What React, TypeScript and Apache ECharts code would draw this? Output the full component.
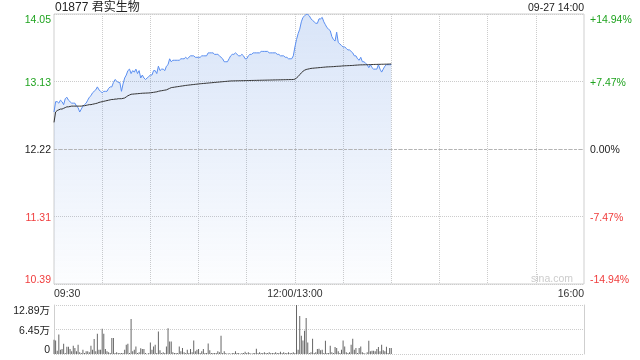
import React, { useEffect, useRef } from "react";
import * as echarts from "echarts";

const stockTitle = "01877 君实生物";
const stampText = "09-27 14:00";
const prevClose = 12.22;

const timeLabels = ["09:30", "12:00/13:00", "16:00"];
const timeLabelIdx = [0, 150, 330];
const totalMinutes = 330;

const priceTickLabels = ["10.39", "11.31", "12.22", "13.13", "14.05"];
const pctTickLabels = ["-14.94%", "-7.47%", "0.00%", "+7.47%", "+14.94%"];
const pctStep = 7.47;
const volTickLabels = ["0", "6.45万", "12.89万"];
const volMax = 128900;

const prices = [
  12.72, 12.86, 12.86, 12.84, 12.88, 12.86, 12.82, 12.9, 12.92, 12.88,
  12.86, 12.84, 12.84, 12.84, 12.8, 12.78, 12.72, 12.76, 12.8, 12.82,
  12.84, 12.88, 12.92, 12.94, 12.98, 13.0, 13.02, 13.06, 13.02, 13.0,
  12.98, 13.0, 13.0, 13.0, 13.04, 13.06, 13.06, 13.12, 13.16, 13.14,
  13.12, 13.12, 13.0, 13.1, 13.18, 13.22, 13.28, 13.3, 13.24, 13.28,
  13.26, 13.3, 13.24, 13.28, 13.18, 13.22, 13.18, 13.16, 13.18, 13.2,
  13.22, 13.22, 13.28, 13.28, 13.24, 13.34, 13.28, 13.3, 13.3, 13.28,
  13.34, 13.36, 13.44, 13.4, 13.42, 13.42, 13.42, 13.42, 13.42, 13.44,
  13.44, 13.44, 13.46, 13.44, 13.46, 13.48, 13.48, 13.48, 13.46, 13.46,
  13.46, 13.46, 13.48, 13.48, 13.48, 13.48, 13.52, 13.52, 13.52, 13.52,
  13.5, 13.5, 13.5, 13.48, 13.46, 13.44, 13.4, 13.4, 13.4, 13.44,
  13.48, 13.5, 13.5, 13.52, 13.5, 13.48, 13.48, 13.5, 13.48, 13.44,
  13.44, 13.48, 13.5, 13.5, 13.52, 13.52, 13.52, 13.52, 13.52, 13.54,
  13.54, 13.54, 13.54, 13.54, 13.52, 13.52, 13.52, 13.52, 13.52, 13.5,
  13.5, 13.48, 13.48, 13.48, 13.46, 13.46, 13.44, 13.44, 13.44, 13.48,
  13.6, 13.7, 13.78, 13.84, 13.94, 14.0, 14.02, 14.04, 14.04, 14.02,
  13.98, 13.96, 13.94, 13.92, 13.92, 13.98, 13.98, 14.0, 13.94, 13.9,
  13.86, 13.84, 13.82, 13.74, 13.7, 13.68, 13.8, 13.66, 13.64, 13.62,
  13.6, 13.6, 13.58, 13.56, 13.56, 13.54, 13.52, 13.48, 13.48, 13.44,
  13.42, 13.46, 13.4, 13.4, 13.38, 13.36, 13.32, 13.36, 13.32, 13.3,
  13.3, 13.3, 13.36, 13.3, 13.26, 13.3, 13.34, 13.36, 13.36, 13.36, 13.36,
];

const avgPrices = [
  12.58, 12.72, 12.74, 12.75, 12.76, 12.76, 12.77, 12.78, 12.79, 12.79,
  12.795, 12.8, 12.8, 12.8, 12.8, 12.8, 12.8, 12.8, 12.805, 12.805,
  12.81, 12.815, 12.82, 12.82, 12.825, 12.83, 12.835, 12.84, 12.85, 12.855,
  12.86, 12.865, 12.87, 12.875, 12.88, 12.885, 12.89, 12.89, 12.895, 12.895,
  12.9, 12.9, 12.9, 12.905, 12.91, 12.925, 12.94, 12.95, 12.96, 12.962,
  12.964, 12.966, 12.968, 12.97, 12.972, 12.974, 12.975, 12.976, 12.977, 12.978,
  12.98, 12.983, 12.986, 12.99, 12.993, 13.0, 13.005, 13.008, 13.012, 13.016,
  13.02, 13.03, 13.04, 13.05, 13.053, 13.056, 13.06, 13.063, 13.066, 13.07,
  13.073, 13.076, 13.08, 13.082, 13.085, 13.087, 13.09, 13.092, 13.095, 13.097,
  13.1, 13.102, 13.104, 13.106, 13.108, 13.11, 13.112, 13.114, 13.116, 13.118,
  13.12, 13.122, 13.124, 13.126, 13.128, 13.13, 13.132, 13.134, 13.136, 13.138,
  13.14, 13.141, 13.141, 13.142, 13.142, 13.143, 13.143, 13.144, 13.144, 13.145,
  13.145, 13.146, 13.146, 13.147, 13.147, 13.148, 13.148, 13.149, 13.149, 13.15,
  13.15, 13.151, 13.151, 13.152, 13.152, 13.153, 13.153, 13.154, 13.154, 13.155,
  13.155, 13.156, 13.156, 13.157, 13.157, 13.158, 13.158, 13.159, 13.159, 13.16,
  13.165, 13.18, 13.2, 13.225, 13.25, 13.27, 13.285, 13.295, 13.3, 13.305,
  13.31, 13.312, 13.314, 13.316, 13.318, 13.32, 13.322, 13.324, 13.326, 13.328,
  13.33, 13.331, 13.332, 13.333, 13.334, 13.336, 13.338, 13.339, 13.34, 13.342,
  13.344, 13.345, 13.346, 13.347, 13.348, 13.349, 13.35, 13.352, 13.354, 13.355,
  13.357, 13.358, 13.358, 13.359, 13.359, 13.36, 13.36, 13.361, 13.362, 13.363,
  13.364, 13.364, 13.365, 13.365, 13.366, 13.366, 13.367, 13.367, 13.368, 13.369, 13.37,
];

const volumes = [
  37500, 35700, 8700, 51400, 11300, 13100, 27000, 2600, 19200, 19200,
  13100, 7000, 21800, 15700, 7000, 24400, 4400, 2600, 11300, 2600,
  7000, 7000, 4400, 21800, 11300, 39200, 7000, 53100, 11300, 11300,
  66200, 53100, 13100, 7000, 4400, 2600, 41800, 41800, 2600, 4400,
  2600, 2600, 2600, 2600, 11300, 24400, 27000, 2600, 92300, 7000,
  11300, 20000, 2600, 4400, 14800, 13100, 13100, 2600, 900, 2600,
  30500, 11300, 20000, 24400, 2600, 59200, 9600, 2600, 4400, 2600,
  20000, 67900, 33100, 33100, 4400, 2600, 2600, 2600, 20000, 7000,
  15700, 4400, 2600, 11300, 2600, 13100, 4400, 35700, 7000, 11300,
  13100, 2600, 7000, 13100, 2600, 2600, 27900, 9600, 2600, 2600,
  2600, 2600, 7000, 4400, 47900, 2600, 7000, 2600, 900, 2600,
  900, 2600, 2600, 7000, 2600, 2600, 900, 2600, 2600, 6100,
  2600, 4400, 2600, 900, 2600, 2600, 13900, 2600, 4400, 2600,
  2600, 4400, 2600, 2600, 4400, 2600, 2600, 2600, 4400, 2600,
  2600, 6100, 2600, 4400, 2600, 2600, 4400, 2600, 2600, 4400,
  2600, 128900, 11300, 100200, 47900, 35700, 61000, 94900, 30500, 2600,
  4400, 40100, 2600, 4400, 13100, 13900, 9600, 11300, 2600, 34800,
  2600, 2600, 21800, 4400, 2600, 18300, 15700, 7000, 2600, 11300,
  35700, 20000, 4400, 2600, 4400, 24400, 40100, 11300, 15700, 2600,
  15700, 20000, 4400, 2600, 900, 4400, 34800, 7000, 8700, 8700,
  7000, 13100, 18300, 7000, 24400, 9600, 7000, 19200, 2600, 15700, 15700,
];

const FONT = '"Liberation Sans", Arial, "Noto Sans CJK SC", sans-serif';
const GREEN = "#1fa31f";
const RED = "#f03c3c";
const DARK = "#222";
const tickColorKeys = ["r", "r", "k", "g", "g"];
const richStyles = {
  g: { color: GREEN, fontSize: 10.5, fontFamily: FONT },
  r: { color: RED, fontSize: 10.5, fontFamily: FONT },
  k: { color: DARK, fontSize: 10.5, fontFamily: FONT },
};

export default function App() {
  const ref = useRef<HTMLDivElement>(null);

  useEffect(() => {
    if (!ref.current) return;
    const chart = echarts.init(ref.current, null, { renderer: "svg" });
    const cats = Array.from({ length: totalMinutes + 1 }, (_, i) => String(i));
    const toPct = (p: number) => +((p / prevClose - 1) * 100).toFixed(4);
    const tickIdx = (v: number) => Math.round(v / pctStep) + 2;

    const option: any = {
      animation: false,
      textStyle: { fontFamily: FONT },
      grid: [
        { left: 54, right: 56, top: 14, height: 270, show: true, borderColor: "#cfcfcf", borderWidth: 1, backgroundColor: "transparent" },
        { left: 54, right: 56, top: 305, height: 49, show: false },
      ],
      xAxis: [
        {
          type: "category",
          gridIndex: 0,
          data: cats,
          boundaryGap: false,
          axisLine: { show: false },
          axisTick: { show: false },
          splitLine: {
            show: true,
            interval: (i: number) => i % 30 === 0 && i > 0 && i < totalMinutes,
            lineStyle: { color: "#cccccc", type: "dotted", width: 1 },
          },
          axisLabel: {
            interval: (i: number) => timeLabelIdx.includes(i),
            formatter: (v: string) => timeLabels[timeLabelIdx.indexOf(Number(v))] ?? "",
            fontSize: 10.5,
            color: "#333",
            margin: 4,
            fontFamily: FONT,
            alignMinLabel: "left",
            alignMaxLabel: "right",
          },
        },
        {
          type: "category",
          gridIndex: 1,
          data: cats,
          boundaryGap: false,
          axisLine: { show: false },
          axisTick: { show: false },
          axisLabel: { show: false },
          splitLine: { show: false },
        },
      ],
      yAxis: [
        {
          type: "value",
          gridIndex: 0,
          position: "left",
          min: -2 * pctStep,
          max: 2 * pctStep,
          interval: pctStep,
          axisLine: { show: false },
          axisTick: { show: false },
          splitLine: { show: true, lineStyle: { color: "#cccccc", type: "dotted", width: 1 } },
          axisLabel: {
            margin: 3,
            fontSize: 10.5,
            verticalAlignMinLabel: "bottom",
            verticalAlignMaxLabel: "top",
            formatter: (v: number) => {
              const k = tickIdx(v);
              return `{${tickColorKeys[k]}|${priceTickLabels[k]}}`;
            },
            rich: richStyles,
          },
        },
        {
          type: "value",
          gridIndex: 0,
          position: "right",
          min: -2 * pctStep,
          max: 2 * pctStep,
          interval: pctStep,
          axisLine: { show: false },
          axisTick: { show: false },
          splitLine: { show: false },
          axisLabel: {
            margin: 6,
            fontSize: 10.5,
            verticalAlignMinLabel: "bottom",
            verticalAlignMaxLabel: "top",
            formatter: (v: number) => {
              const k = tickIdx(v);
              return `{${tickColorKeys[k]}|${pctTickLabels[k]}}`;
            },
            rich: richStyles,
          },
        },
        {
          type: "value",
          gridIndex: 1,
          position: "left",
          min: 0,
          max: volMax,
          interval: volMax / 2,
          axisLine: { show: true, lineStyle: { color: "#cfcfcf" } },
          axisTick: { show: false },
          splitLine: { show: true, lineStyle: { color: "#cccccc", type: "dotted", width: 1 } },
          axisLabel: {
            margin: 4,
            fontSize: 10.5,
            color: DARK,
            fontFamily: FONT,
            verticalAlignMinLabel: "bottom",
            verticalAlignMaxLabel: "top",
            formatter: (v: number) => volTickLabels[Math.round(v / (volMax / 2))],
          },
        },
        {
          type: "value",
          gridIndex: 1,
          position: "right",
          min: 0,
          max: volMax,
          interval: volMax / 2,
          axisLine: { show: true, lineStyle: { color: "#cfcfcf" } },
          axisTick: { show: false },
          splitLine: { show: false },
          axisLabel: { show: false },
        },
      ],
      series: [
        {
          type: "line",
          xAxisIndex: 0,
          yAxisIndex: 0,
          data: prices.map(toPct),
          symbol: "none",
          lineStyle: { color: "#5a8ef0", width: 1 },
          areaStyle: {
            origin: "start",
            color: {
              type: "linear",
              x: 0, y: 0, x2: 0, y2: 1,
              colorStops: [
                { offset: 0, color: "rgba(60,120,220,0.28)" },
                { offset: 1, color: "rgba(60,120,220,0.02)" },
              ],
            },
          },
          markLine: {
            silent: true,
            symbol: "none",
            label: { show: false },
            lineStyle: { color: "#b4b4b4", type: [3, 2], width: 1 },
            data: [{ yAxis: 0 }],
          },
          z: 2,
        },
        {
          type: "line",
          xAxisIndex: 0,
          yAxisIndex: 0,
          data: avgPrices.map(toPct),
          symbol: "none",
          lineStyle: { color: "#333", width: 1 },
          z: 3,
        },
        {
          type: "bar",
          xAxisIndex: 1,
          yAxisIndex: 2,
          data: volumes,
          barWidth: 1,
          itemStyle: { color: "#666" },
        },
      ],
      graphic: [
        {
          type: "text",
          left: 55,
          top: 1,
          style: { text: stockTitle, fill: "#222", font: `12px ${FONT}` },
        },
        {
          type: "text",
          right: 56,
          top: 2,
          style: { text: stampText, fill: "#222", font: `10.5px ${FONT}` },
        },
        {
          type: "text",
          right: 67,
          top: 273,
          style: { text: "sina.com", fill: "#cccccc", font: `10.5px ${FONT}` },
        },
      ],
    };
    chart.setOption(option);
    return () => chart.dispose();
  }, []);

  return (
    <div
      ref={ref}
      style={{ position: "fixed", left: 0, top: 0, width: 640, height: 360 }}
    />
  );
}
